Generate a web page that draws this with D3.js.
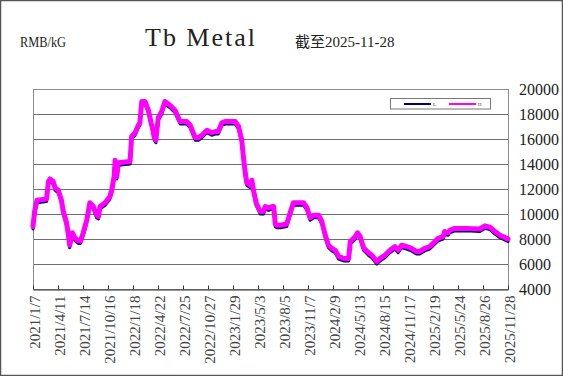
<!DOCTYPE html>
<html><head><meta charset="utf-8">
<script src="https://cdn.jsdelivr.net/npm/d3@7"></script>
<style>
html,body{margin:0;padding:0;background:#fff;}
svg{display:block;}
</style>
</head><body>
<svg id="chart" width="563" height="376"></svg>
<script>
const dates = ["2021-01-07","2021-01-13","2021-01-22","2021-02-27","2021-03-06","2021-03-12","2021-03-24","2021-03-31","2021-04-12","2021-04-24",
"2021-04-30","2021-05-13","2021-05-19","2021-05-25","2021-06-04","2021-06-13","2021-06-26","2021-07-05","2021-07-15","2021-07-28",
"2021-08-09","2021-08-22","2021-09-03","2021-09-10","2021-09-16","2021-10-05","2021-10-23","2021-10-30","2021-11-08","2021-11-12",
"2021-11-18","2021-11-24","2022-01-07","2022-01-13","2022-01-26","2022-02-07","2022-02-13","2022-02-20","2022-03-04","2022-03-17",
"2022-03-27","2022-04-03","2022-04-08","2022-04-14","2022-04-23","2022-05-06","2022-05-18","2022-06-06","2022-06-25","2022-07-14",
"2022-08-08","2022-08-21","2022-09-09","2022-09-21","2022-10-04","2022-10-23","2022-11-10","2022-11-23","2022-12-05","2022-12-18",
"2022-12-30","2023-02-06","2023-02-19","2023-03-03","2023-03-09","2023-03-16","2023-03-22","2023-04-04","2023-04-10","2023-04-16",
"2023-04-26","2023-05-11","2023-05-24","2023-05-30","2023-06-12","2023-06-25","2023-07-01","2023-07-07","2023-07-13","2023-07-26",
"2023-08-19","2023-09-01","2023-09-13","2023-10-21","2023-11-03","2023-11-15","2023-11-28","2023-12-17","2023-12-29","2024-01-11",
"2024-01-23","2024-02-05","2024-02-17","2024-03-01","2024-03-20","2024-04-08","2024-04-14","2024-05-03","2024-05-11","2024-05-21",
"2024-06-03","2024-06-21","2024-07-04","2024-07-23","2024-08-04","2024-08-22","2024-09-10","2024-09-29","2024-10-11","2024-10-24",
"2024-11-12","2024-11-30","2024-12-19","2024-12-31","2025-01-19","2025-02-07","2025-02-26","2025-03-10","2025-03-29","2025-04-04",
"2025-04-17","2025-04-23","2025-05-12","2025-06-25","2025-08-14","2025-09-02","2025-09-21","2025-10-10","2025-10-29","2025-11-23",
"2025-11-28"];

const seriesH = [9000,10200,11100,11200,12600,12800,12600,12100,11900,11100,
10300,9300,8500,7500,8500,8100,7850,7850,8500,9500,
10900,10600,9900,9800,10600,10900,11400,11900,13000,14300,
13000,14100,14200,16200,16500,17100,17300,19000,19000,18300,
17300,16700,16100,15900,17700,18200,19000,18700,18300,17400,
17400,17100,16100,16100,16300,16700,16500,16600,16600,17300,
17400,17400,17000,15900,14600,13300,12500,12300,12700,11900,
10900,10200,10200,10600,10500,10600,10600,9200,9100,9100,
9200,10100,10900,10900,10500,9700,9900,9900,9400,8300,
7500,7250,7100,6600,6450,6450,7800,8200,8500,8200,
7300,6900,6700,6200,6450,6700,7100,7400,7100,7500,
7400,7250,7000,7000,7250,7400,7800,8050,8200,8600,
8500,8700,8850,8850,8800,9050,8950,8600,8300,8050,
8000];

const seriesL = [8800,10000,10900,11000,12400,12600,12400,11900,11700,10900,
10100,9100,8300,7300,8300,7900,7650,7650,8300,9300,
10700,10400,9700,9600,10400,10700,11200,11700,12800,14000,
12800,13900,14000,16000,16300,16900,17100,18800,18800,18100,
17100,16500,15900,15700,17500,18000,18800,18500,18100,17200,
17200,16900,15900,15900,16100,16500,16300,16400,16400,17100,
17200,17200,16800,15700,14400,13100,12300,12100,12500,11700,
10700,10000,10000,10400,10300,10400,10400,9000,8900,8900,
9000,9900,10700,10700,10300,9500,9700,9700,9200,8100,
7300,7050,6900,6400,6250,6250,7600,8000,8300,8000,
7100,6700,6500,6000,6250,6500,6900,7200,6900,7300,
7200,7050,6800,6800,7050,7200,7600,7850,8000,8400,
8300,8500,8650,8650,8600,8850,8750,8400,8100,7850,
7800];

const xTickLabels = ["2021/1/7","2021/4/11","2021/7/14","2021/10/16","2022/1/18","2022/4/22","2022/7/25","2022/10/27","2023/1/29","2023/5/3",
"2023/8/5","2023/11/7","2024/2/9","2024/5/13","2024/8/15","2024/11/17","2025/2/19","2025/5/24","2025/8/26","2025/11/28"];
const yTicks = [4000,6000,8000,10000,12000,14000,16000,18000,20000];
const seriesNames = ["L","H"];
const seriesColors = ["#000066","#ff00ff"];

const parse = d3.timeParse("%Y-%m-%d");
const parseTick = d3.timeParse("%Y/%m/%d");
const svg = d3.select("#chart");
const W = 563, H = 376;
const m = {left:33, right:508, top:89, bottom:289};

svg.append("rect").attr("x",0.5).attr("y",0.5).attr("width",W-1).attr("height",H-1)
  .attr("fill","#fff").attr("stroke","#555").attr("stroke-width",1.5);

const x = d3.scaleTime().domain([parse(dates[0]), parse(dates[dates.length-1])]).range([m.left, m.right]);
const y = d3.scaleLinear().domain([4000,20000]).range([m.bottom, m.top]);

const serif = "'Liberation Serif','Noto Sans CJK SC',serif";

// gridlines
svg.append("g").selectAll("line").data(yTicks.slice(1,-1)).join("line")
  .attr("x1",m.left).attr("x2",m.right)
  .attr("y1",d=>Math.round(y(d))+0.5).attr("y2",d=>Math.round(y(d))+0.5)
  .attr("stroke","#6e6e6e").attr("stroke-width",1);

// plot border
svg.append("rect").attr("x",m.left+0.5).attr("y",m.top+0.5)
  .attr("width",m.right-m.left).attr("height",m.bottom-m.top)
  .attr("fill","none").attr("stroke","#8a8a8a").attr("stroke-width",1);

// x axis
const xAxis = d3.axisBottom(x)
  .tickValues(xTickLabels.map(parseTick))
  .tickSizeInner(-4).tickSizeOuter(0)
  .tickFormat((d,i)=>xTickLabels[i]);
const gx = svg.append("g").attr("transform",`translate(0,${m.bottom+0.5})`).call(xAxis);
gx.select(".domain").attr("stroke","#333");
gx.selectAll(".tick line").attr("stroke","#333");
gx.selectAll(".tick text")
  .attr("font-family",serif).attr("font-size",15).attr("fill","#444")
  .attr("transform","rotate(-90)")
  .attr("text-anchor","end")
  .attr("x",-6).attr("y",1).attr("dy","0.35em");

// y axis labels on right
const yAxis = d3.axisRight(y).tickValues(yTicks).tickSize(0).tickFormat(d3.format("d"));
const gy = svg.append("g").attr("transform",`translate(${m.right},0)`).call(yAxis);
gy.select(".domain").remove();
gy.selectAll(".tick text").attr("font-family",serif).attr("font-size",16).attr("fill","#222")
  .attr("x",11).attr("dy","0.35em");

// lines
const allSeries = [seriesL, seriesH];
const line = d3.line().x((d,i)=>x(parse(dates[i]))).y(d=>y(d));
svg.append("g").selectAll("path").data(allSeries).join("path")
  .attr("d",d=>line(d))
  .attr("fill","none")
  .attr("stroke",(d,i)=>seriesColors[i])
  .attr("stroke-width",(d,i)=>i===0?3:5)
  .attr("stroke-linejoin","round").attr("stroke-linecap","round");

// legend
const lg = svg.append("g");
lg.append("rect").attr("x",390.5).attr("y",98.5).attr("width",100).attr("height",10.5)
  .attr("fill","#fff").attr("stroke","#777").attr("stroke-width",1);
seriesNames.forEach((n,i)=>{
  const lx = 404 + i*45;
  lg.append("line").attr("x1",lx).attr("x2",lx+27).attr("y1",104).attr("y2",104)
    .attr("stroke",seriesColors[i]).attr("stroke-width",2);
  lg.append("text").attr("x",lx+29).attr("y",106).attr("font-size",5)
    .attr("font-family",serif).attr("fill","#333").text(n);
});

// titles
svg.append("text").attr("x",20).attr("y",47).attr("font-family",serif).attr("font-size",14)
  .attr("fill","#222").attr("textLength",46).attr("lengthAdjust","spacingAndGlyphs").text("RMB/kG");
svg.append("text").attr("x",145).attr("y",46).attr("font-family",serif).attr("font-size",26)
  .attr("fill","#222").attr("textLength",110).attr("lengthAdjust","spacing").text("Tb Metal");
svg.append("text").attr("x",295).attr("y",47).attr("font-family",serif).attr("font-size",15)
  .attr("fill","#222").text("截至2025-11-28");
</script>
</body></html>
